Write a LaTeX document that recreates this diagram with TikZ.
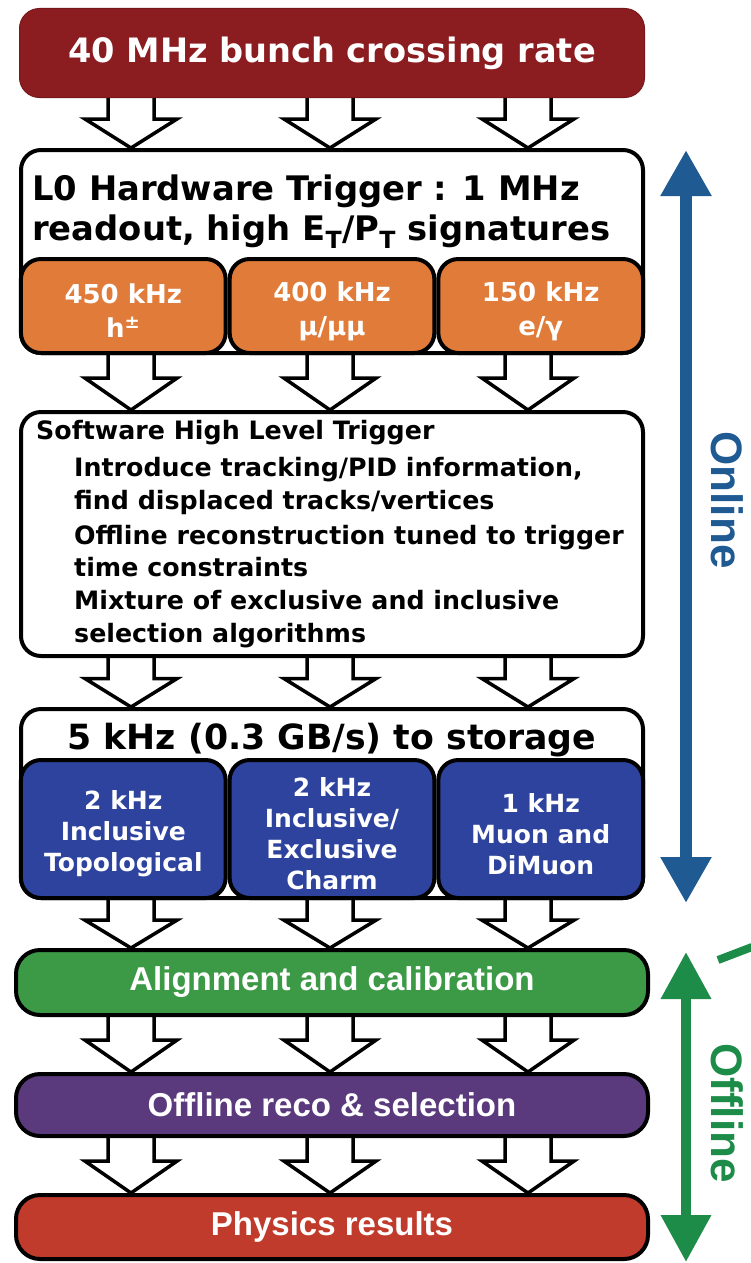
\documentclass[tikz,border=0pt]{standalone}
\usepackage{fontspec}
\newfontfamily\vfont{DejaVu Sans}
\newfontfamily\afont{Liberation Sans}
\usetikzlibrary{arrows.meta,calc}
\pgfdeclarelayer{bg}
\pgfdeclarelayer{paper}
\pgfsetlayers{paper,bg,main}
\definecolor{titleRed}{HTML}{8B1C20}
\definecolor{lzOrange}{HTML}{E07B39}
\definecolor{subBlue}{HTML}{2E439E}
\definecolor{alignGreen}{HTML}{3C9A47}
\definecolor{recoPurple}{HTML}{5A3A7C}
\definecolor{physRed}{HTML}{C13B2C}
\definecolor{onBlue}{HTML}{1F5A93}
\definecolor{offGreen}{HTML}{1C8C48}
\newcommand\fsz[2]{\fontsize{#1}{#2}\selectfont}
\newcommand\harrow[3]{%
\begin{pgfonlayer}{bg}
\draw[hollow] let \p1=(#1.south -| #3), \p2=(#2.north -| #3), \n1={0.42*(\y2-\y1)} in
 ({\x1-23pt},{\y1+4pt}) -- ({\x1-23pt},{\y1+\n1}) -- ({\x1-46pt},{\y1+\n1}) -- (\x1,\y2)
 -- ({\x1+46pt},{\y1+\n1}) -- ({\x1+23pt},{\y1+\n1}) -- ({\x1+23pt},{\y1+4pt}) -- cycle;
\end{pgfonlayer}}
\begin{document}
\begin{tikzpicture}[x=1pt,y=-1pt,
  box/.style={draw=black,line width=4pt,rounded corners=20pt,inner sep=0pt},
  hollow/.style={draw=black,fill=white,line width=3.5pt,line join=miter},
  vtext/.style={font=\vfont\bfseries},
  ltext/.style={anchor=base west,inner sep=0pt},
  subtext/.style={vtext,text=white,align=center},
  lowbox/.style={box,rounded corners=24pt,minimum width=632pt,text=white,font=\afont\bfseries\fsz{33}{40}},
  side/.style={rotate=-90,font=\afont\bfseries\fsz{44}{44}}]
\begin{pgfonlayer}{paper}
\fill[white] (0,0) rectangle (751,1263);
\end{pgfonlayer}
\useasboundingbox (0,0) rectangle (751,1263);
\coordinate (cA) at (131,0);
\coordinate (cB) at (330,0);
\coordinate (cC) at (528,0);
% title
\node[box,draw=titleRed!85!black,line width=1pt,fill=titleRed,minimum width=625pt,minimum height=89pt,
  text=white,font=\vfont\bfseries\fsz{33.6}{40}] (title) at (332,53) {40 MHz bunch crossing rate};
% L0
\node[box,fill=white,minimum width=622pt,minimum height=203pt] (l0) at (332,251.5) {};
\node[ltext,font=\vfont\bfseries\fsz{33.8}{40}] (l0a) at (32,200) {L0 Hardware Trigger : 1 MHz};
\node[ltext,font=\vfont\bfseries\fsz{33.8}{40}] (l0b) at (32,240) {readout, high E\textsubscript{T}/P\textsubscript{T} signatures};
\node[box,fill=lzOrange,minimum width=204.7pt,minimum height=94pt] (o1) at (123.3,306) {};
\node[box,fill=lzOrange,minimum width=204.7pt,minimum height=94pt] (o2) at (332,306) {};
\node[box,fill=lzOrange,minimum width=204.7pt,minimum height=94pt] (o3) at (540.7,306) {};
\node[subtext,font=\vfont\bfseries\fsz{26}{34}] (o1t) at (123.3,311) {450 kHz\\h\textsuperscript{±}};
\node[subtext,font=\vfont\bfseries\fsz{26}{34}] (o2t) at (332,311) {400 kHz\\μ/μμ};
\node[subtext,font=\vfont\bfseries\fsz{26}{34}] (o3t) at (540.7,311) {150 kHz\\e/γ};
% HLT
\node[box,fill=white,minimum width=622pt,minimum height=244pt] (hlt) at (332,534) {};
\node[ltext,font=\vfont\bfseries\fsz{25.3}{32}] (hltH) at (36,439) {Software High Level Trigger};
\node[ltext,font=\vfont\bfseries\fsz{25.3}{32}] (hlt1) at (74,476) {Introduce tracking/PID information,};
\node[ltext,font=\vfont\bfseries\fsz{25.3}{32}] (hlt2) at (74,509) {find displaced tracks/vertices};
\node[ltext,font=\vfont\bfseries\fsz{25.3}{32}] (hlt3) at (74,544) {Offline reconstruction tuned to trigger};
\node[ltext,font=\vfont\bfseries\fsz{25.3}{32}] (hlt4) at (74,576) {time constraints};
\node[ltext,font=\vfont\bfseries\fsz{25.3}{32}] (hlt5) at (74,609) {Mixture of exclusive and inclusive};
\node[ltext,font=\vfont\bfseries\fsz{25.3}{32}] (hlt6) at (74,642) {selection algorithms};
% storage
\node[box,fill=white,minimum width=622pt,minimum height=189pt] (sto) at (332,803.5) {};
\node[font=\vfont\bfseries\fsz{34.7}{40}] (stot) at (332,740) {5 kHz (0.3 GB/s) to storage};
\node[box,fill=subBlue,minimum width=204.7pt,minimum height=138pt] (b1) at (123.3,829) {};
\node[box,fill=subBlue,minimum width=204.7pt,minimum height=138pt] (b2) at (332,829) {};
\node[box,fill=subBlue,minimum width=204.7pt,minimum height=138pt] (b3) at (540.7,829) {};
\node[subtext,font=\vfont\bfseries\fsz{25}{31}] (b1t) at (123.3,834) {2 kHz\\Inclusive\\Topological};
\node[subtext,font=\vfont\bfseries\fsz{25}{31}] (b2t) at (332,834) {2 kHz\\Inclusive/\\Exclusive\\Charm};
\node[subtext,font=\vfont\bfseries\fsz{25}{31}] (b3t) at (540.7,834) {1 kHz\\Muon and\\DiMuon};
% offline boxes
\node[lowbox,fill=alignGreen,minimum height=65pt] (align) at (332,982.5) {Alignment and calibration};
\node[lowbox,fill=recoPurple,minimum height=62pt] (reco) at (332,1105) {Offline reco \& selection};
\node[lowbox,fill=physRed,minimum height=64pt] (phys) at (332,1227) {Physics results};
% hollow arrows
\foreach \c in {cA,cB,cC}{
  \harrow{title}{l0}{\c}
  \harrow{l0}{hlt}{\c}
  \harrow{hlt}{sto}{\c}
  \harrow{sto}{align}{\c}
  \harrow{align}{reco}{\c}
  \harrow{reco}{phys}{\c}
}
% online / offline
\coordinate (onT) at (686,150);
\coordinate (onB) at (686,903);
\draw[onBlue,line width=12pt,{Triangle[width=48pt,length=46pt]}-{Triangle[width=48pt,length=46pt]}] (onT) -- (onB);
\node[side,text=onBlue] (online) at (727,500) {Online};
\coordinate (offT) at (686,952);
\coordinate (offB) at (686,1262);
\draw[offGreen,line width=10pt,{Triangle[width=48pt,length=47pt]}-{Triangle[width=48pt,length=47pt]}] (offT) -- (offB);
\node[side,text=offGreen] (offline) at (727,1113) {Offline};
\coordinate (g1) at (718,960);
\coordinate (g2) at (752,947);
\draw[offGreen,line width=8pt] (g1) -- (g2);
\end{tikzpicture}
\end{document}
